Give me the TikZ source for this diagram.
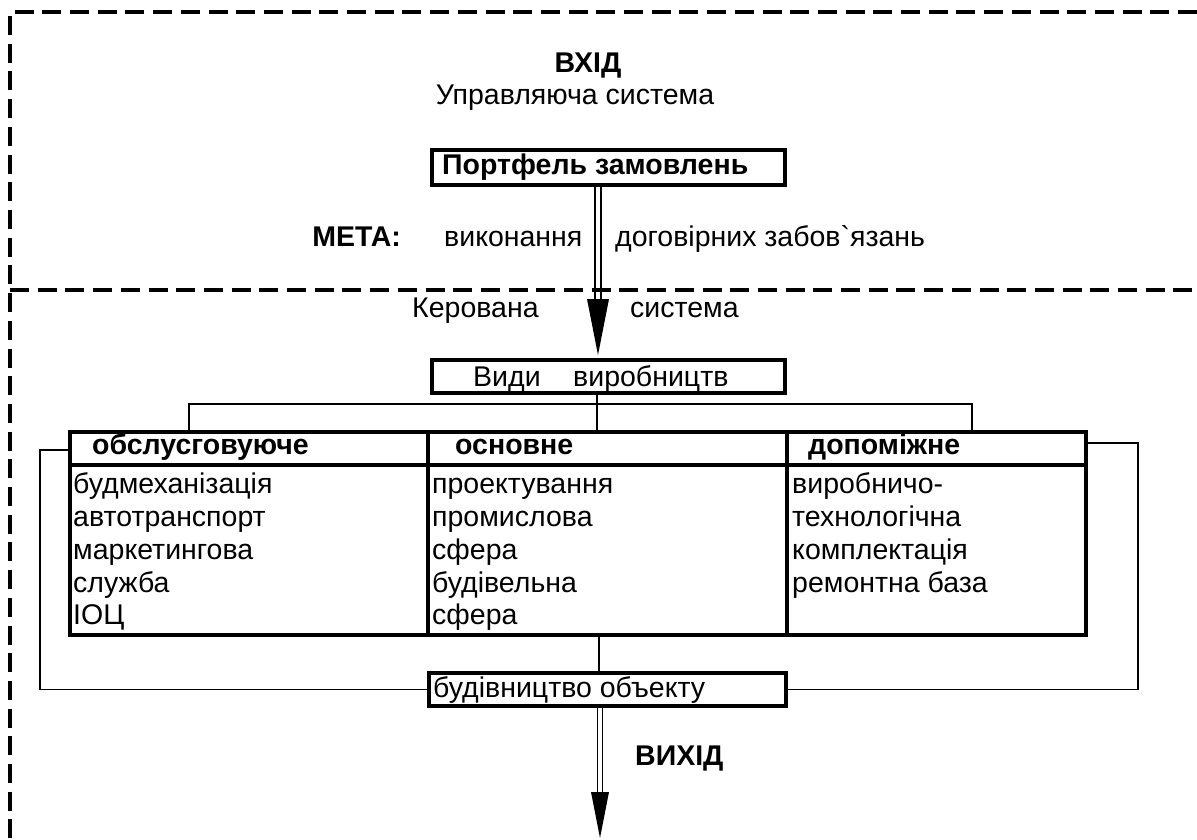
\documentclass[tikz,border=0pt]{standalone}
\usepackage{fontspec}
\setmainfont{Liberation Sans}
\usetikzlibrary{calc}
\begin{document}
\begin{tikzpicture}[x=1pt,y=-1pt,
  thickbox/.style={draw, line width=4pt, inner sep=0pt},
  txt/.style={inner sep=0pt, font=\fontsize{28.5}{33}\selectfont},
  btxt/.style={inner sep=0pt, font=\fontsize{28.5}{33}\selectfont\bfseries},
  thinline/.style={line width=1.3pt},
  dbl/.style={line width=1.8pt},
  framedash/.style={line width=3.5pt, dash pattern=on 19pt off 8.7pt}]
\useasboundingbox (0,0) rectangle (1197,840);
% dashed frame
\draw[framedash] (1197,12) -- (10,12) -- (10,840);
\draw[framedash] (10,290) -- (1197,290);
% boxes
\node[thickbox, minimum width=353pt, minimum height=35pt] (port) at (608.5,167.5) {};
\node[thickbox, minimum width=353pt, minimum height=33pt] (vidy) at (608.5,376.5) {};
\node[thickbox, minimum width=1016pt, minimum height=203pt] (tbl) at (578,533.5) {};
\node[thickbox, minimum width=357pt, minimum height=33pt] (bud) at (607.5,689.5) {};
% table inner lines
\coordinate (hl) at (0,465);
\coordinate (c1) at (428,0);
\coordinate (c2) at (787,0);
\draw[line width=4pt] (tbl.west |- hl) -- (tbl.east |- hl);
\draw[line width=4pt] (c1 |- tbl.north) -- (c1 |- tbl.south);
\draw[line width=4pt] (c2 |- tbl.north) -- (c2 |- tbl.south);
% texts top
\node[btxt, anchor=base] (vhid) at (588,73) {ВХІД};
\node[txt, anchor=base] (upr) at (575,105) {Управляюча система};
\node[btxt, anchor=base west] (portt) at (442,175) {Портфель замовлень};
\node[btxt, anchor=base east] (meta) at (401,246) {МЕТА:};
\node[txt, anchor=base west] (vyk) at (444,246) {виконання};
\node[txt, anchor=base west] (dog) at (615,246) {договірних забов\textasciigrave язань};
\node[txt, anchor=base west] (ker) at (412,317) {Керована};
\node[txt, anchor=base west] (sys) at (630,317) {система};
\node[txt, anchor=base west] (vidyt1) at (473,386) {Види};
\node[txt, anchor=base west] (vidyt2) at (573,386) {виробництв};
% headers
\node[btxt, anchor=base west] (h1) at (92,454) {обслусговуюче};
\node[btxt, anchor=base west] (h2) at (455,454) {основне};
\node[btxt, anchor=base west] (h3) at (808,454) {допоміжне};
% body
\node[txt, anchor=base west] (a1) at (73,493) {будмеханізація};
\node[txt, anchor=base west] (a2) at (73,526) {автотранспорт};
\node[txt, anchor=base west] (a3) at (73,559) {маркетингова};
\node[txt, anchor=base west] (a4) at (73,592) {служба};
\node[txt, anchor=base west] (a5) at (73,624) {ІОЦ};
\node[txt, anchor=base west] (b1) at (432,493) {проектування};
\node[txt, anchor=base west] (b2) at (432,526) {промислова};
\node[txt, anchor=base west] (b3) at (432,559) {сфера};
\node[txt, anchor=base west] (b4) at (432,592) {будівельна};
\node[txt, anchor=base west] (b5) at (432,624) {сфера};
\node[txt, anchor=base west] (d1) at (792,493) {виробничо-};
\node[txt, anchor=base west] (d2) at (792,526) {технологічна};
\node[txt, anchor=base west] (d3) at (792,559) {комплектація};
\node[txt, anchor=base west] (d4) at (792,592) {ремонтна база};
\node[txt, anchor=base west] (budt) at (433,697) {будівництво объекту};
\node[btxt, anchor=base west] (vyh) at (635,765) {ВИХІД};
% top double arrow
\coordinate (tip1) at (598,355);
\foreach \d in {-2.75,2.75}
  \draw[dbl] ($(tip1 |- port.south)+(\d,-3)$) -- ($(tip1)+(\d,-20)$);
\fill (tip1) -- ++(-11,-56) -- ++(22,0) -- cycle;
% bracket
\coordinate (bm) at (597,404);
\coordinate (bl) at (189,404);
\coordinate (br) at (972,404);
\draw[thinline] (bm |- vidy.south) -- (bm |- tbl.north);
\draw[thinline] (bl |- tbl.north) -- (bl) -- (br) -- (br |- tbl.north);
% side connectors
\coordinate (L1) at (40,450);
\coordinate (R1) at (1138,443);
\draw[thinline] (tbl.west |- L1) -- (L1) |- (bud.west);
\draw[thinline] (tbl.east |- R1) -- (R1) |- (bud.east);
\coordinate (v) at (599,0);
\draw[thinline] (v |- tbl.south) -- (v |- bud.north);
% bottom double arrow
\coordinate (tip2) at (600,838);
\foreach \d in {-2.5,2.5}
  \draw[dbl] ($(tip2 |- bud.south)+(\d,-3)$) -- ($(tip2)+(\d,-20)$);
\fill (tip2) -- ++(-9,-46) -- ++(18,0) -- cycle;
\end{tikzpicture}
\end{document}
